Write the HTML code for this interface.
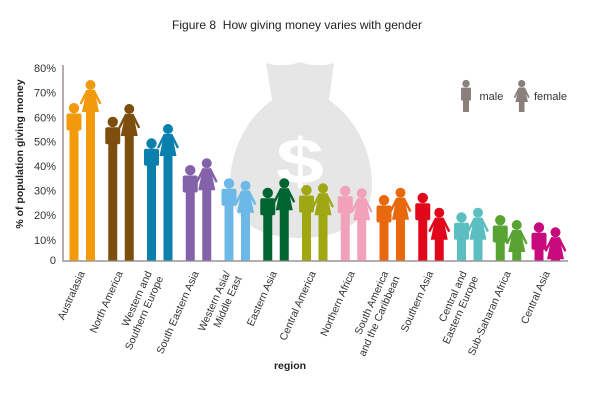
<!DOCTYPE html>
<html><head><meta charset="utf-8"><style>
html,body{margin:0;padding:0;background:#fff;width:600px;height:400px;overflow:hidden;}
svg{display:block;position:absolute;left:0;top:0;}
text{font-family:"Liberation Sans",Arial,sans-serif;}
</style></head><body>
<svg width="600" height="400" viewBox="0 0 600 400" xmlns="http://www.w3.org/2000/svg" overflow="hidden">
<defs>
<g id="m"><circle cx="0" cy="5.2" r="5.2" fill="currentColor"/><rect x="-7.5" y="10.5" width="15" height="17" rx="2" fill="currentColor"/><rect x="-4.5" y="26" width="9" height="140" fill="currentColor"/></g>
<g id="f"><circle cx="0" cy="5" r="5" fill="currentColor"/><path d="M-4,10 L4,10 L8.5,32 L-8.5,32Z" fill="currentColor"/><path d="M-3.5,11 L-9.5,23 M3.5,11 L9.5,23" stroke="currentColor" stroke-width="2.4" stroke-linecap="round" fill="none"/><rect x="-4.5" y="31" width="9" height="140" fill="currentColor"/></g>
<clipPath id="cp"><rect x="0" y="0" width="600" height="260.5"/></clipPath>
</defs>
<rect width="600" height="400" fill="#fff"/>
<!-- title -->
<text x="172" y="29" font-size="12" fill="#222" textLength="250" lengthAdjust="spacingAndGlyphs">Figure 8&#160; How giving money varies with gender</text>
<!-- money bag -->
<path d="M266,63 Q283,68 300,62 Q317,68 334,63 L329,100 C355,118 372,150 372,185 C372,222 340,238 300,238 C260,238 230,222 230,185 C230,150 247,118 272,100 Z" fill="#e6e6e6"/>
<text x="0" y="0" transform="translate(300,183) scale(1.35,1)" font-size="64" font-weight="bold" text-anchor="middle" fill="#fff">$</text>
<!-- axes -->
<line x1="63" y1="65" x2="63" y2="261.5" stroke="#9b9393" stroke-width="1.5"/>
<line x1="62.5" y1="261" x2="568" y2="261" stroke="#9b9393" stroke-width="1.5"/>
<g font-size="11" fill="#333" text-anchor="end">
<text x="56" y="72">80%</text>
<text x="56" y="96.7">70%</text>
<text x="56" y="121.3">60%</text>
<text x="56" y="145.7">50%</text>
<text x="56" y="170">40%</text>
<text x="56" y="194.7">30%</text>
<text x="56" y="219">20%</text>
<text x="56" y="244">10%</text>
<text x="56" y="264">0</text>
</g>
<text transform="translate(23,154) rotate(-90)" font-size="10.5" font-weight="bold" fill="#222" text-anchor="middle">% of population giving money</text>
<text x="290" y="369" font-size="10.5" font-weight="bold" fill="#222" text-anchor="middle">region</text>
<!-- figures -->
<g clip-path="url(#cp)">
<use href="#m" x="74" y="103" style="color:#f39a0c"/><use href="#f" x="90.5" y="80" style="color:#f39a0c"/>
<rect x="86" y="200" width="9" height="61" fill="#f39a0c"/>
<use href="#m" x="112.75" y="116.7" style="color:#7d4f0e"/><use href="#f" x="129.25" y="104" style="color:#7d4f0e"/>
<use href="#m" x="151.5" y="138.3" style="color:#0b80ad"/><use href="#f" x="168" y="124" style="color:#0b80ad"/>
<use href="#m" x="190.25" y="165" style="color:#8462a9"/><use href="#f" x="206.75" y="158.3" style="color:#8462a9"/>
<use href="#m" x="229" y="178.3" style="color:#6cb8e6"/><use href="#f" x="245.5" y="180.7" style="color:#6cb8e6"/>
<use href="#m" x="267.75" y="187.7" style="color:#006530"/><use href="#f" x="284.25" y="178.3" style="color:#006530"/>
<use href="#m" x="306.5" y="185" style="color:#9fa713"/><use href="#f" x="323" y="183.3" style="color:#9fa713"/>
<use href="#m" x="345.25" y="185.7" style="color:#f1a1b9"/><use href="#f" x="361.75" y="188.3" style="color:#f1a1b9"/>
<use href="#m" x="384" y="195" style="color:#e8690d"/><use href="#f" x="400.5" y="187.7" style="color:#e8690d"/>
<use href="#m" x="422.75" y="192.7" style="color:#e2061a"/><use href="#f" x="439.25" y="207.7" style="color:#e2061a"/>
<use href="#m" x="461.5" y="212.3" style="color:#5bbfc1"/><use href="#f" x="478" y="207.7" style="color:#5bbfc1"/>
<use href="#m" x="500.25" y="215" style="color:#58a333"/><use href="#f" x="516.75" y="220" style="color:#58a333"/>
<use href="#m" x="539" y="222.3" style="color:#c70b7d"/><use href="#f" x="555.5" y="227.3" style="color:#c70b7d"/>
</g>
<!-- legend -->
<g fill="#8b7f7b">
<circle cx="466" cy="83.6" r="3.7"/>
<rect x="461" y="87.6" width="10" height="13" rx="1.2"/>
<rect x="463" y="99" width="6" height="13"/>
<circle cx="521.7" cy="83.6" r="3.6"/>
<path d="M518.9,87.5 L524.5,87.5 L528,102 L515.4,102 Z"/>
<path d="M519,88.5 L514.8,97 M524.4,88.5 L528.6,97" stroke="#8b7f7b" stroke-width="1.8" stroke-linecap="round" fill="none"/>
<rect x="518.9" y="101" width="5.6" height="11"/>
</g>
<text x="479.5" y="100" font-size="11" fill="#333">male</text>
<text x="534" y="100" font-size="11" fill="#333">female</text>
<!-- x labels -->
<g font-size="10.5" fill="#333" text-anchor="end">
<text transform="translate(85,273) rotate(-66)">Australasia</text>
<text transform="translate(123,273) rotate(-66)">North America</text>
<text transform="translate(152,273) rotate(-66)"><tspan x="0" y="0">Western and</tspan><tspan x="0" y="12.5">Southern Europe</tspan></text>
<text transform="translate(199,273) rotate(-66)">South Eastern Asia</text>
<text transform="translate(230.5,273) rotate(-66)"><tspan x="0" y="0">Western Asia/</tspan><tspan x="0" y="12.5">Middle East</tspan></text>
<text transform="translate(277,273) rotate(-66)">Eastern Asia</text>
<text transform="translate(316,273) rotate(-66)">Central America</text>
<text transform="translate(355,273) rotate(-66)">Northern Africa</text>
<text transform="translate(388.5,273) rotate(-66)"><tspan x="0" y="0">South America</tspan><tspan x="0" y="12.5">and the Caribbean</tspan></text>
<text transform="translate(433.5,273) rotate(-66)">Southern Asia</text>
<text transform="translate(467,273) rotate(-66)"><tspan x="0" y="0">Central and</tspan><tspan x="0" y="12.5">Eastern Europe</tspan></text>
<text transform="translate(511,273) rotate(-66)">Sub-Saharan Africa</text>
<text transform="translate(550,273) rotate(-66)">Central Asia</text>
</g>
</svg>
</body></html>
